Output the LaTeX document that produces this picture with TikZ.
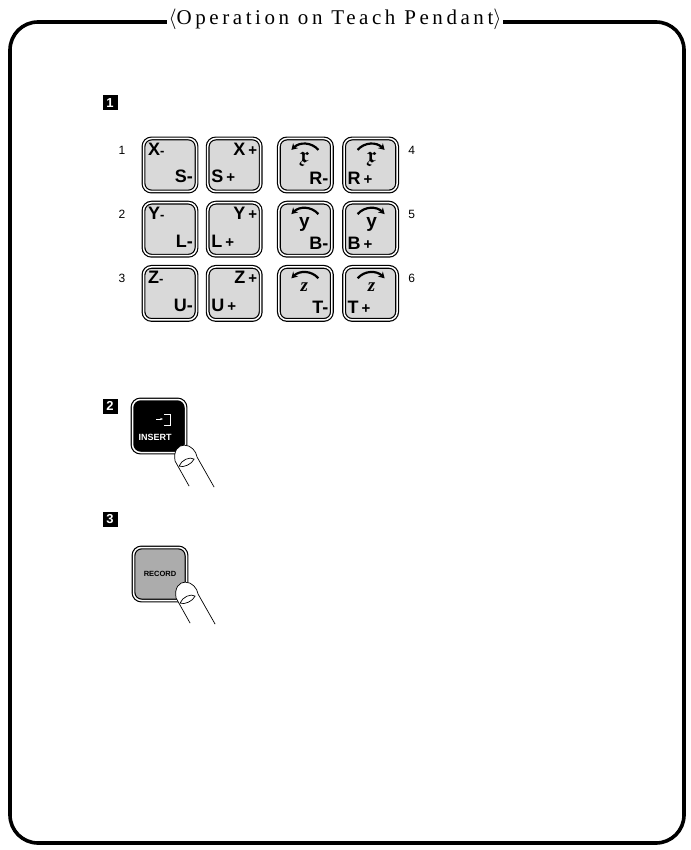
\documentclass[tikz,border=0pt]{standalone}
\usepackage{amsmath,amssymb}
\usepackage{fontspec}
\setmainfont{Liberation Serif}
\setsansfont{Liberation Sans}
\newfontfamily\titlefont[LetterSpace=17]{Liberation Serif}
\usepackage{tikz}
\usetikzlibrary{arrows.meta,positioning,calc}

\begin{document}
\begin{tikzpicture}[
  x=1pt, y=-1pt,
  node distance=10pt,
  frame/.style={line width=3.6pt, rounded corners=28pt},
  pkey/.style={draw, line width=1.2pt, double=white, double distance=1.5pt, fill=gray!30, rounded corners=8pt, minimum width=53pt, minimum height=53pt, inner sep=0pt},
  darkkey/.style={pkey, fill=black},
  reckey/.style={pkey, fill=gray!65},
  lbl/.style={font=\sffamily\bfseries\fontsize{18}{18}\selectfont, inner sep=0pt},
  rotlbl/.style={font=\fontsize{19}{19}\selectfont, inner sep=0pt, anchor=base},
  rownum/.style={font=\sffamily\fontsize{12}{12}\selectfont, inner sep=0pt},
  stepno/.style={fill=black, text=white, font=\sffamily\bfseries\fontsize{13}{13}\selectfont, minimum size=15pt, inner sep=0pt},
  rotarr/.style={line width=2.2pt, -{Stealth[length=6pt,width=7pt]}},
  finger/.style={line width=0.7pt}
]
  \useasboundingbox (0,0) rectangle (690,850);

  % outer frame and heading
  \draw[frame] (10,22) rectangle (684,843);
  \node[fill=white, inner xsep=2pt, inner ysep=1pt, font=\titlefont\fontsize{21}{21}\selectfont] (title) at (335,19) {$\langle$Operation on Teach Pendant$\rangle$};

  % step 1: axis keys
  \node[stepno] (s1) at (110,103) {1};

  \node[pkey] (kxm) at (170,165) {};
  \node[pkey, right=of kxm] (kxp) {};
  \node[pkey, right=17pt of kxp] (krm) {};
  \node[pkey, right=11pt of krm] (krp) {};
  \node[pkey, below=of kxm] (kym) {};
  \node[pkey, below=of kxp] (kyp) {};
  \node[pkey, below=of krm] (kbm) {};
  \node[pkey, below=of krp] (kbp) {};
  \node[pkey, below=of kym] (kzm) {};
  \node[pkey, below=of kyp] (kzp) {};
  \node[pkey, below=of kbm] (ktm) {};
  \node[pkey, below=of kbp] (ktp) {};

  \foreach \k/\t/\b in {kxm/X/S, kym/Y/L, kzm/Z/U} {
    \node[lbl, anchor=north west] at ([shift={(5,5)}]\k.north west) {\t{\fontsize{13}{13}\selectfont -}};
    \node[lbl, anchor=south east] at ([shift={(-4,-9)}]\k.south east) {\b-};
  }
  \foreach \k/\t/\b in {kxp/X/S, kyp/Y/L, kzp/Z/U} {
    \node[lbl, anchor=north east] at ([shift={(-4,5)}]\k.north east) {\t\,{\fontsize{15}{15}\selectfont+}};
    \node[lbl, anchor=south west] at ([shift={(4,-9)}]\k.south west) {\b\,{\fontsize{15}{15}\selectfont+}};
  }

  % rotation keys
  \foreach \k/\t/\b in {krm/{\fontsize{22}{22}\selectfont$\boldsymbol{\mathfrak{x}}$}/R, kbm/{\sffamily\bfseries y}/B, ktm/{\bfseries\itshape z}/T} {
    \draw[rotarr] ($(\k.north)+(13,12)$) .. controls ($(\k.north)+(6,4)$) and ($(\k.north)+(-6,4)$) .. ($(\k.north)+(-14,12)$);
    \node[rotlbl] at ($(\k.center)+(-1,-2)$) {\t};
    \node[lbl, anchor=south east] at ([shift={(-4,-7)}]\k.south east) {\b-};
  }
  \foreach \k/\t/\b in {krp/{\fontsize{22}{22}\selectfont$\boldsymbol{\mathfrak{x}}$}/R, kbp/{\sffamily\bfseries y}/B, ktp/{\bfseries\itshape z}/T} {
    \draw[rotarr] ($(\k.north)+(-13,12)$) .. controls ($(\k.north)+(-6,4)$) and ($(\k.north)+(6,4)$) .. ($(\k.north)+(14,12)$);
    \node[rotlbl] at ($(\k.center)+(1,-2)$) {\t};
    \node[lbl, anchor=south west] at ([shift={(4,-7)}]\k.south west) {\b\,{\fontsize{15}{15}\selectfont+}};
  }

  \node[rownum] at ([shift={(-21,12)}]kxm.north west) {1};
  \node[rownum] at ([shift={(-21,12)}]kym.north west) {2};
  \node[rownum] at ([shift={(-21,12)}]kzm.north west) {3};
  \node[rownum] at ([shift={(14,12)}]krp.north east) {4};
  \node[rownum] at ([shift={(14,12)}]kbp.north east) {5};
  \node[rownum] at ([shift={(14,12)}]ktp.north east) {6};

  % step 2: INSERT
  \node[stepno] (s2) at (110,406) {2};
  \node[darkkey] (kins) at (159,426) {};
  \node[font=\sffamily\bfseries\fontsize{9}{9}\selectfont, text=white, inner sep=0pt] (tins) at ($(kins.center)+(-4,11)$) {INSERT};
  \draw[white, line width=0.9pt, -{Stealth[length=3pt]}] ($(kins.center)+(-3,-7)$) -- ($(kins.center)+(4,-7)$);
  \draw[white, line width=0.9pt] ($(kins.center)+(5,-12)$) -- ($(kins.center)+(11,-12)$) -- ($(kins.center)+(11,-1)$) -- ($(kins.center)+(5,-1)$);

  % step 3: RECORD
  \node[stepno] (s3) at (110,519) {3};
  \node[reckey] (krec) at (160,574) {};
  \node[font=\sffamily\bfseries\fontsize{7.5}{7.5}\selectfont, inner sep=0pt] (trec) at (krec.center) {RECORD};

  % pressing fingers
  \foreach \k/\dy in {kins/0, krec/-11} {
    \begin{scope}[shift={($(\k.south east)+(0,\dy)$)}, finger]
      \fill[white] (-11,8) .. controls (-13,-2) and (-8,-8) .. (-2,-8) .. controls (5,-8) and (10,-2) .. (11,4) -- (28,34) -- (3,33) -- cycle;
      \draw (3,33) -- (-11,8) .. controls (-13,-2) and (-8,-8) .. (-2,-8) .. controls (5,-8) and (10,-2) .. (11,4) -- (28,34);
      \draw (-7,13) .. controls (-5,7) and (4,3) .. (8,6) .. controls (6,11) and (-3,15) .. (-7,13);
    \end{scope}
  }
\end{tikzpicture}
\end{document}
